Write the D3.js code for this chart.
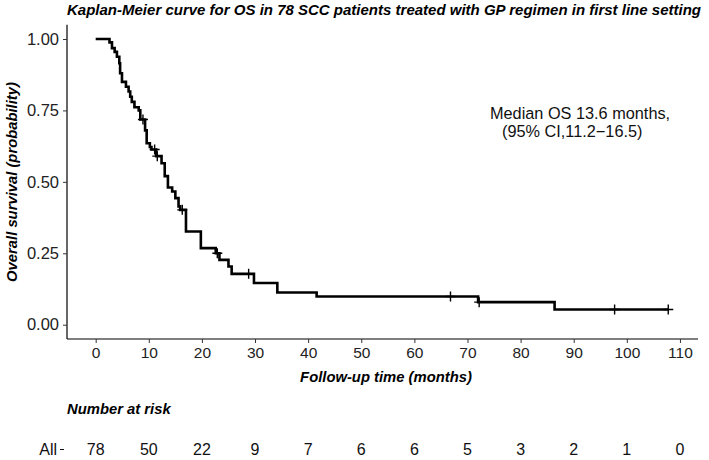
<!DOCTYPE html>
<html><head><meta charset="utf-8">
<script src="https://cdn.jsdelivr.net/npm/d3@7"></script>
<style>body{margin:0;background:#fff}text{font-family:"Liberation Sans",Arial,sans-serif}</style>
</head><body><svg id="c" width="709" height="460"></svg>
<script>
// KM step points: time of drop and survival level after drop
const stepTimes = [0,2.6,3.07,3.57,4.0,4.45,4.6,4.95,5.7,6.2,6.5,6.8,7.3,8.1,8.4,9.3,9.6,10.2,10.5,11.4,12.4,13.0,13.6,14.4,15.0,15.6,15.9,17.0,19.8,22.6,23.3,25.0,25.6,29.8,34.2,41.6,72.0,86.4];
const stepSurv  = [1.0,0.988,0.968,0.955,0.938,0.915,0.88,0.85,0.833,0.816,0.798,0.78,0.761,0.75,0.718,0.68,0.635,0.622,0.613,0.59,0.565,0.52,0.48,0.466,0.443,0.414,0.402,0.326,0.268,0.25,0.227,0.204,0.178,0.146,0.113,0.099,0.079,0.053];
const endTime = 107.8;
const censorTimes = [8.9,11.1,11.6,16.3,22.9,28.8,66.8,72.2,97.7,107.8];
const xTicks = [0,10,20,30,40,50,60,70,80,90,100,110];
const yTicks = [0,0.25,0.5,0.75,1.0];
const riskTimes = [0,10,20,30,40,50,60,70,80,90,100,110];
const riskCounts = [78,50,22,9,7,6,6,5,3,2,1,0];

const svg = d3.select("#c");
const x = d3.scaleLinear().domain([-5.4,113.4]).range([67,698]);
const y = d3.scaleLinear().domain([-0.05,1.05]).range([339,24.7]);

function survAt(t){let s=1;for(let i=0;i<stepTimes.length;i++){if(stepTimes[i]<=t)s=stepSurv[i];}return s;}

// title
svg.append("text").attr("x",67).attr("y",15).attr("font-size",14).attr("font-weight","bold").attr("font-style","italic")
  .attr("textLength",634).attr("lengthAdjust","spacingAndGlyphs").attr("fill","#000")
  .text("Kaplan-Meier curve for OS in 78 SCC patients treated with GP regimen in first line setting");

// axes
const gx = svg.append("g").attr("transform","translate(0,339)")
  .call(d3.axisBottom(x).tickValues(xTicks).tickSize(4).tickPadding(4).tickFormat(d3.format("d")));
const gy = svg.append("g").attr("transform","translate(67,0)")
  .call(d3.axisLeft(y).tickValues(yTicks).tickSize(4).tickPadding(4).tickFormat(d3.format(".2f")));
[gx,gy].forEach(g=>{
  g.select(".domain").attr("stroke","#000").attr("stroke-width",1.2);
  g.selectAll(".tick line").attr("stroke","#333");
  g.selectAll(".tick text").attr("fill","#222").attr("font-family","Liberation Sans, Arial, sans-serif");
});
gx.selectAll(".tick text").attr("font-size",15.5);
gy.selectAll(".tick text").attr("font-size",16.5);
gx.select(".domain").attr("d",`M67,0H698`);
gy.select(".domain").attr("d",`M0,24.7V339`);

// curve
const pts=[];
for(let i=0;i<stepTimes.length;i++){pts.push([stepTimes[i],stepSurv[i]]);}
pts.push([endTime,stepSurv[stepSurv.length-1]]);
const line = d3.line().x(d=>x(d[0])).y(d=>y(d[1])).curve(d3.curveStepAfter);
svg.append("path").attr("d",line(pts)).attr("fill","none").attr("stroke","#000").attr("stroke-width",2.6);

// censor marks
censorTimes.forEach(t=>{
  const cx=x(t), cy=y(survAt(t));
  svg.append("path").attr("d",`M${cx-5},${cy}H${cx+5}M${cx},${cy-5}V${cy+5}`).attr("stroke","#000").attr("stroke-width",1.4);
});

// annotation
svg.append("text").attr("x",490).attr("y",119).attr("font-size",16.3).attr("fill","#111").text("Median OS 13.6 months,");
svg.append("text").attr("x",502).attr("y",137).attr("font-size",16.3).attr("fill","#111").text("(95% CI,11.2\u221216.5)");

// labels
svg.append("text").attr("transform","translate(17,182) rotate(-90)").attr("text-anchor","middle")
  .attr("font-size",14.8).attr("font-weight","bold").attr("font-style","italic").text("Overall survival (probability)");
svg.append("text").attr("x",386).attr("y",382).attr("text-anchor","middle")
  .attr("font-size",14.8).attr("font-weight","bold").attr("font-style","italic").text("Follow-up time (months)");
svg.append("text").attr("x",67).attr("y",414)
  .attr("font-size",14.8).attr("font-weight","bold").attr("font-style","italic").text("Number at risk");

// risk table
svg.append("text").attr("x",57).attr("y",455).attr("text-anchor","end").attr("font-size",16).attr("fill","#111").text("All");
svg.append("line").attr("x1",60).attr("x2",64).attr("y1",449.5).attr("y2",449.5).attr("stroke","#111").attr("stroke-width",1);
svg.selectAll(".risk").data(riskTimes).enter().append("text").attr("class","risk")
  .attr("x",d=>x(d)).attr("y",455).attr("text-anchor","middle").attr("font-size",16).attr("fill","#111")
  .text((d,i)=>riskCounts[i]);
</script></body></html>
